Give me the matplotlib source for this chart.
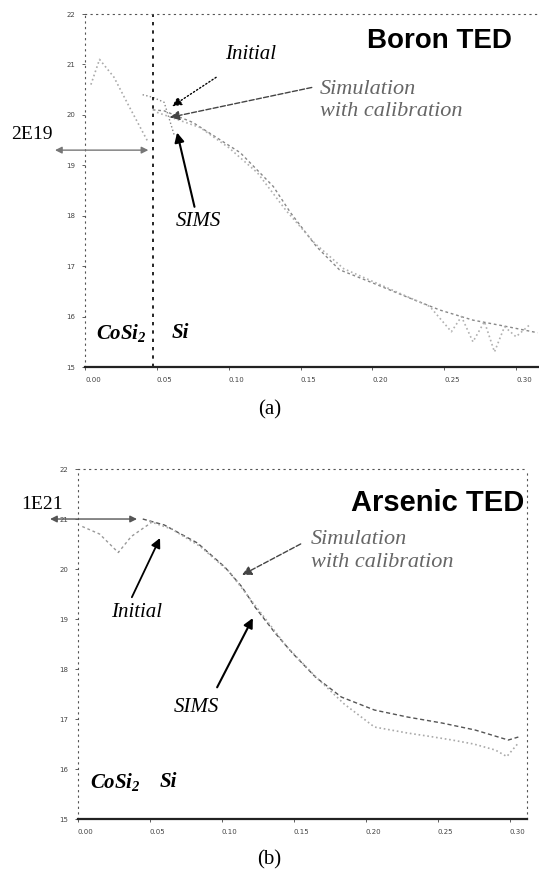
import matplotlib.pyplot as plt
import numpy as np

plt.rcParams['mathtext.fontset'] = 'custom'
plt.rcParams['mathtext.rm'] = 'Liberation Serif:bold:italic'
plt.rcParams['mathtext.it'] = 'Liberation Serif:bold:italic'

# shared axes
x_ticks = [0.00, 0.05, 0.10, 0.15, 0.20, 0.25, 0.30]
x_tick_labels = ['0.00', '0.05', '0.10', '0.15', '0.20', '0.25', '0.30']
y_exponents = [15, 16, 17, 18, 19, 20, 21, 22]

# (a) boron, values are log10 of concentration
boron_interface = 0.047
boron_marker = 2e19
boron_sim_x = [0.047, 0.055, 0.075, 0.108, 0.131, 0.143, 0.161, 0.177,
               0.200, 0.224, 0.247, 0.270, 0.294, 0.315]
boron_sim_log = [20.10, 20.08, 19.85, 19.25, 18.58, 18.06, 17.39, 16.93,
                 16.67, 16.39, 16.13, 15.93, 15.80, 15.68]
boron_sims_x = [0.050, 0.060, 0.080, 0.100, 0.120, 0.140, 0.160, 0.180,
                0.200, 0.220, 0.240, 0.255, 0.262, 0.270, 0.278, 0.285,
                0.292, 0.300, 0.310]
boron_sims_log = [20.05, 19.95, 19.75, 19.35, 18.85, 18.10, 17.45, 16.95,
                  16.70, 16.45, 16.20, 15.70, 16.00, 15.50, 15.90, 15.30,
                  15.80, 15.60, 15.85]
boron_init_x = [0.040, 0.047, 0.055, 0.062]
boron_init_log = [20.40, 20.35, 20.25, 19.60]
boron_cosi_x = [0.004, 0.010, 0.020, 0.030, 0.044]
boron_cosi_log = [20.6, 21.10, 20.75, 20.20, 19.45]

# (b) arsenic
arsenic_marker = 1e21
arsenic_sim_x = [0.045, 0.060, 0.083, 0.102, 0.114, 0.123, 0.137, 0.149,
                 0.165, 0.183, 0.206, 0.229, 0.253, 0.276, 0.299, 0.306]
arsenic_sim_log = [21.00, 20.88, 20.52, 20.04, 19.64, 19.24, 18.72, 18.32,
                   17.84, 17.44, 17.18, 17.04, 16.92, 16.78, 16.58, 16.64]
arsenic_sims_x = [0.050, 0.065, 0.085, 0.105, 0.125, 0.145, 0.165, 0.185,
                  0.206, 0.229, 0.245, 0.260, 0.275, 0.290, 0.298, 0.306]
arsenic_sims_log = [20.95, 20.80, 20.45, 19.95, 19.20, 18.45, 17.85, 17.30,
                    16.84, 16.72, 16.65, 16.58, 16.50, 16.38, 16.25, 16.52]
arsenic_init_x = [0.003, 0.015, 0.028, 0.037, 0.051]
arsenic_init_log = [20.85, 20.70, 20.33, 20.65, 20.93]

serif = 'Liberation Serif'
sans = 'Liberation Sans'


def p(vals):
    return 10.0 ** np.asarray(vals)


def style_axes(ax, xmax, right_spine):
    ax.set_yscale('log')
    ax.set_xlim(0, xmax)
    ax.set_ylim(1e15, 1e22)
    ax.set_xticks(x_ticks)
    ax.set_xticklabels(x_tick_labels)
    ax.set_yticks([10.0 ** e for e in y_exponents])
    ax.set_yticklabels([str(e) for e in y_exponents])
    ax.minorticks_off()
    ax.tick_params(labelsize=5, colors='#444444', length=2, width=0.6,
                   pad=5)
    for lbl in ax.get_xticklabels():
        lbl.set_ha('left')
    ax.spines['bottom'].set_linewidth(1.6)
    ax.spines['bottom'].set_color('#222222')
    for side in ['left', 'top']:
        ax.spines[side].set_linestyle((0, (1, 4)))
        ax.spines[side].set_color('#555555')
    if right_spine:
        ax.spines['right'].set_linestyle((0, (1, 4)))
        ax.spines['right'].set_color('#555555')
    else:
        ax.spines['right'].set_visible(False)


fig = plt.figure(figsize=(5.39, 8.77), dpi=100)

# ---------------- (a) Boron ----------------
ax1 = fig.add_axes([0.158, 0.5815, 0.842, 0.4025])
style_axes(ax1, 0.316, False)
ax1.plot(boron_sim_x, p(boron_sim_log), color='#888888',
         linestyle=(0, (2, 2)), lw=1.0)
ax1.plot(boron_sims_x, p(boron_sims_log), color='#b0b0b0',
         linestyle=':', lw=1.2)
ax1.plot(boron_init_x, p(boron_init_log), color='#888888',
         linestyle=':', lw=1.0)
ax1.plot(boron_cosi_x, p(boron_cosi_log), color='#aaaaaa',
         linestyle=':', lw=1.2)
ax1.axvline(boron_interface, color='black', linestyle=(0, (2, 3)), lw=1.2)

ax1.text(0.247, 10 ** 21.46, 'Boron TED', family=sans, weight='bold',
         fontsize=20, ha='center', va='center')
ax1.annotate('Initial', xy=(0.0605, 10 ** 20.17),
             xytext=(0.1155, 10 ** 21.20), family=serif, style='italic',
             fontsize=15, ha='center', va='center',
             arrowprops=dict(arrowstyle='-|>', color='black', lw=1,
                             linestyle=':', mutation_scale=14,
                             shrinkA=14, shrinkB=0))
ax1.annotate('Simulation\nwith calibration', xy=(0.059, 10 ** 19.95),
             xytext=(0.1635, 10 ** 20.29), family=serif, style='italic',
             fontsize=16, color='#666666', ha='left', va='center',
             linespacing=1.25,
             arrowprops=dict(arrowstyle='-|>', color='#444444', lw=1,
                             linestyle='--', mutation_scale=14,
                             relpos=(0, 0.85), shrinkA=4, shrinkB=0))
ax1.annotate('SIMS', xy=(0.064, 10 ** 19.65),
             xytext=(0.0786, 10 ** 17.88), family=serif, style='italic',
             fontsize=15, ha='center', va='center',
             arrowprops=dict(arrowstyle='-|>', color='black', lw=1.5,
                             mutation_scale=14, relpos=(0.45, 1),
                             shrinkA=2, shrinkB=0))
ax1.annotate('', xy=(boron_interface - 0.003, boron_marker),
             xytext=(-0.021, boron_marker), annotation_clip=False,
             arrowprops=dict(arrowstyle='<|-|>', color='#777777', lw=1,
                             mutation_scale=10, shrinkA=0, shrinkB=0))
ax1.text(-0.0369, 10 ** 19.61, '2E19', family=serif, fontsize=14,
         ha='center', va='center')
ax1.text(0.025, 10 ** 15.68, r'CoSi$_2$', family=serif, style='italic',
         weight='bold', fontsize=15, ha='center', va='center')
ax1.text(0.066, 10 ** 15.68, 'Si', family=serif, style='italic',
         weight='bold', fontsize=15, ha='center', va='center')
fig.text(0.5, 1 - 410 / 877, '(a)', family=serif, fontsize=15,
         ha='center', va='center')

# ---------------- (b) Arsenic ----------------
ax2 = fig.add_axes([0.1447, 0.0661, 0.833, 0.3991])
style_axes(ax2, 0.312, True)
ax2.plot(arsenic_sim_x, p(arsenic_sim_log), color='#555555',
         linestyle=(0, (3, 2)), lw=1.0)
ax2.plot(arsenic_sims_x, p(arsenic_sims_log), color='#aaaaaa',
         linestyle=':', lw=1.2)
ax2.plot(arsenic_init_x, p(arsenic_init_log), color='#999999',
         linestyle=(0, (2, 2)), lw=1.0)

ax2.text(0.310, 10 ** 21.32, 'Arsenic TED', family=sans, weight='bold',
         fontsize=21, ha='right', va='center')
ax2.annotate('Simulation\nwith calibration', xy=(0.114, 10 ** 19.88),
             xytext=(0.1618, 10 ** 20.36), family=serif, style='italic',
             fontsize=16, color='#666666', ha='left', va='center',
             linespacing=1.25,
             arrowprops=dict(arrowstyle='-|>', color='#444444', lw=1,
                             linestyle='--', mutation_scale=14,
                             relpos=(0, 0.8), shrinkA=6, shrinkB=0))
ax2.annotate('Initial', xy=(0.057, 10 ** 20.62),
             xytext=(0.041, 10 ** 19.14), family=serif, style='italic',
             fontsize=15, ha='center', va='center',
             arrowprops=dict(arrowstyle='-|>', color='black', lw=1.3,
                             mutation_scale=14, relpos=(0.35, 1),
                             shrinkA=2, shrinkB=0))
ax2.annotate('SIMS', xy=(0.1215, 10 ** 19.02),
             xytext=(0.082, 10 ** 17.24), family=serif, style='italic',
             fontsize=15, ha='center', va='center',
             arrowprops=dict(arrowstyle='-|>', color='black', lw=1.5,
                             mutation_scale=14, relpos=(0.85, 1),
                             shrinkA=6, shrinkB=0))
ax2.annotate('', xy=(0.041, arsenic_marker),
             xytext=(-0.0194, arsenic_marker), annotation_clip=False,
             arrowprops=dict(arrowstyle='<|-|>', color='#555555', lw=1,
                             mutation_scale=10, shrinkA=0, shrinkB=0))
ax2.text(-0.025, 10 ** 21.30, '1E21', family=serif, fontsize=14,
         ha='center', va='center')
ax2.text(0.026, 10 ** 15.74, r'CoSi$_2$', family=serif, style='italic',
         weight='bold', fontsize=15, ha='center', va='center')
ax2.text(0.063, 10 ** 15.74, 'Si', family=serif, style='italic',
         weight='bold', fontsize=15, ha='center', va='center')
fig.text(0.5, 1 - 860 / 877, '(b)', family=serif, fontsize=15,
         ha='center', va='center')

fig.savefig('out.png', dpi=100)
